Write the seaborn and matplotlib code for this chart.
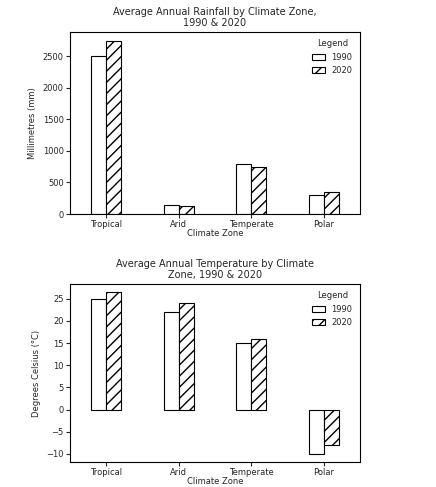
import matplotlib
matplotlib.use("Agg")
import matplotlib.pyplot as plt
import seaborn as sns
import pandas as pd

zones = ["Tropical", "Arid", "Temperate", "Polar"]
years = ["1990", "2020"]
rain_1990 = [2500, 150, 800, 300]
rain_2020 = [2750, 120, 750, 350]
temp_1990 = [25, 22, 15, -10]
temp_2020 = [26.5, 24, 16, -8]

def frame(a, b):
    return pd.DataFrame({"zone": zones * 2, "year": [years[0]] * 4 + [years[1]] * 4, "val": a + b})

sns.set_style("white")
plt.rcParams["font.family"] = ["DejaVu Sans"]
fig = plt.figure(figsize=(4.36, 4.87), dpi=100)
ax1 = fig.add_axes([70/436, 1-214/487, 290/436, 182/487])
ax2 = fig.add_axes([70/436, 1-462/487, 290/436, 178/487])

for ax, df, title, ylab in [
    (ax1, frame(rain_1990, rain_2020), "Average Annual Rainfall by Climate Zone,\n1990 & 2020", "Millimetres (mm)"),
    (ax2, frame(temp_1990, temp_2020), "Average Annual Temperature by Climate\nZone, 1990 & 2020", "Degrees Celsius (°C)"),
]:
    sns.barplot(data=df, x="zone", y="val", hue="year", palette=["white", "white"],
                edgecolor="black", linewidth=0.8, width=0.42, ax=ax)
    n = len(zones)
    for i, p in enumerate(ax.patches[:2 * n]):
        if i >= n:
            p.set_hatch("///")
    for h in ax.get_legend().legend_handles:
        h.set_edgecolor("black")
    ax.get_legend().legend_handles[1].set_hatch("///")
    ax.legend(handles=ax.get_legend().legend_handles, labels=years, title="Legend",
              fontsize=6, title_fontsize=6, loc="upper right", frameon=False,
              handlelength=1.5, handleheight=0.8)
    ax.set_title(title, fontsize=7, pad=4)
    ax.set_xlabel("Climate Zone", fontsize=6, labelpad=0)
    ax.set_ylabel(ylab, fontsize=6)
    ax.tick_params(labelsize=6, length=3, pad=1.5, left=True, bottom=True)
    for s in ax.spines.values():
        s.set_color("black"); s.set_linewidth(0.8)

ax1.set_yticks([0, 500, 1000, 1500, 2000, 2500])
ax2.set_yticks([-10, -5, 0, 5, 10, 15, 20, 25])
ax2.set_yticklabels(["−10", "−5", "0", "5", "10", "15", "20", "25"])
fig.savefig("out.png", dpi=100)
